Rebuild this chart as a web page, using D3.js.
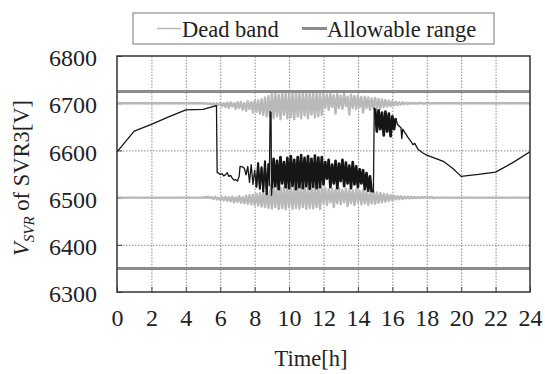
<!DOCTYPE html>
<html>
<head>
<meta charset="utf-8">
<script src="https://cdn.jsdelivr.net/npm/d3@7"></script>
<style>
body { margin: 0; background: #fff; }
svg text { font-family: "Liberation Serif", "Times New Roman", serif; fill: #222; }
.grid line { stroke: #8a8a8a; stroke-dasharray: 1.5,1.5; }
.grid path { display: none; }
.axis path { display: none; }
.axis line { stroke: #444; }
</style>
</head>
<body>
<svg id="chart" width="545" height="374"></svg>
<script>
// ---- data ----
var hourTicks = [0, 2, 4, 6, 8, 10, 12, 14, 16, 18, 20, 22, 24];
var voltTicks = [6300, 6400, 6500, 6600, 6700, 6800];
var allowableRange = [6350, 6725];
var deadBandNominal = [6500, 6700];
var legendLabels = ["Dead band", "Allowable range"];
var sampleStep = 0.1; // h, spacing of the dense samples below

// V_SVR, [hour, volt]
var svrMorning = [[0,6597],[1,6641],[2,6655],[3,6671],[4,6686],[5,6687],[5.78,6695],[5.82,6553],
  [5.9,6552],[6.0,6549],[6.1,6551],[6.2,6546],[6.3,6548],[6.4,6553],[6.5,6545],[6.6,6547],
  [6.7,6541],[6.8,6537],[6.9,6538],[7.0,6535],[7.1,6545],[7.15,6566],[7.3,6565],[7.4,6562]];
// 7.5h .. 8.8h
var svrDenseA = [6548,6566,6532,6570,6528,6558,6522,6574,6518,6565,6512,6578,6506,6572];
var svrSpikeA = [[8.85,6525],[8.9,6682],[8.95,6680],[8.98,6505]];
// 9.0h .. 14.8h
var svrDenseB = [
  6520,6582,6524,6578,6518,6586,6530,6575,6522,6584,
  6520,6588,6525,6580,6518,6586,6522,6590,6520,6584,
  6524,6588,6519,6582,6523,6589,6520,6585,6522,6586,
  6528,6575,6540,6580,6522,6570,6530,6578,6520,6572,
  6535,6580,6524,6574,6530,6568,6520,6575,6528,6566,
  6522,6560,6530,6558,6518,6552,6515,6545,6512];
var svrSpikeB = [[14.9,6512],[14.95,6690]];
// 15.0h .. 16.2h
var svrDenseC = [6688,6640,6685,6645,6680,6632,6682,6640,6678,6630,6672,6645,6668];
var svrEvening = [[16.3,6655],[16.5,6648],[16.55,6625],[16.6,6645],[16.9,6628],[17.1,6618],
  [17.2,6612],[17.3,6615],[17.5,6602],[17.8,6594],[18.0,6590],[18.5,6583],[19.0,6576],
  [19.5,6562],[20.0,6545],[21,6549],[22.0,6554],[23.0,6574],[24.0,6597]];

// dead band edges, 5.0h .. 18.5h
var dbUpper = [
  6700,6699,6700,6698,6700,6697,6700,6695,6700,6696,
  6701,6694,6700,6692,6701,6690,6702,6693,6700,6688,
  6702,6690,6703,6686,6700,6684,6704,6688,6702,6680,
  6705,6682,6706,6678,6708,6675,6712,6672,6715,6670,
  6720,6668,6722,6672,6718,6666,6722,6675,6720,6668,
  6722,6670,6721,6666,6723,6672,6720,6668,6722,6674,
  6721,6668,6723,6676,6720,6670,6722,6672,6721,6675,
  6720,6690,6718,6686,6720,6692,6717,6678,6719,6690,
  6716,6688,6720,6694,6714,6676,6718,6690,6715,6688,
  6716,6692,6713,6680,6714,6690,6712,6686,6710,6688,
  6711,6690,6709,6688,6708,6692,6707,6693,6705,6694,
  6704,6695,6703,6696,6702,6697,6702,6698,6701,6698,
  6701,6699,6701,6699,6700,6699,6701,6700,6699,6700,
  6700,6701,6699,6700,6700,6700];
var dbLower = [
  6500,6501,6500,6502,6499,6501,6497,6502,6496,6500,
  6495,6501,6494,6502,6493,6501,6492,6502,6490,6500,
  6491,6503,6489,6501,6488,6504,6487,6505,6486,6506,
  6484,6508,6483,6510,6481,6512,6480,6514,6478,6518,
  6477,6521,6480,6522,6476,6520,6478,6522,6475,6521,
  6479,6522,6476,6520,6478,6523,6477,6521,6480,6522,
  6476,6520,6478,6522,6477,6521,6480,6522,6476,6520,
  6488,6520,6484,6518,6490,6519,6480,6517,6488,6520,
  6486,6516,6490,6519,6482,6517,6488,6515,6484,6518,
  6490,6514,6486,6516,6488,6513,6485,6512,6488,6514,
  6487,6511,6489,6510,6490,6508,6491,6507,6493,6505,
  6494,6504,6496,6503,6497,6503,6497,6502,6498,6502,
  6498,6502,6499,6501,6499,6501,6499,6501,6500,6501,
  6499,6501,6500,6501,6499,6500];
var dbStart = 5.0;

function draw_chart() {
  function sampled(start, volts) {
    return volts.map(function(v, i) { return [start + i * sampleStep, v]; });
  }

  var denseA = sampled(7.5, svrDenseA), denseB = sampled(9.0, svrDenseB), denseC = sampled(15.0, svrDenseC);
  var svrData = [].concat(svrMorning, denseA, svrSpikeA, denseB, svrSpikeB, denseC, svrEvening);
  var upperData = [].concat([[0, deadBandNominal[1]]], sampled(dbStart, dbUpper), [[24, deadBandNominal[1]]]);
  var lowerData = [].concat([[0, deadBandNominal[0]]], sampled(dbStart, dbLower), [[24, deadBandNominal[0]]]);

  var serif = "'Liberation Serif', 'Times New Roman', serif";
  var svg = d3.select("#chart");
  var pLeft = 117, pRight = 530, pTop = 56, pBottom = 292;

  var x = d3.scaleLinear().domain([0, 24]).range([pLeft, pRight]);
  var y = d3.scaleLinear().domain([6300, 6800]).range([pBottom, pTop]);

  // grid
  svg.append("g").attr("class", "grid")
    .attr("transform", "translate(0," + pBottom + ")")
    .call(d3.axisBottom(x).tickValues(hourTicks.slice(1, -1)).tickSize(-(pBottom - pTop)).tickFormat(""));
  svg.append("g").attr("class", "grid")
    .attr("transform", "translate(" + pLeft + ",0)")
    .call(d3.axisLeft(y).tickValues(voltTicks.slice(1, -1)).tickSize(-(pRight - pLeft)).tickFormat(""));

  // axes
  var xAxis = svg.append("g").attr("class", "axis")
    .attr("transform", "translate(0," + pBottom + ")")
    .call(d3.axisBottom(x).tickValues(hourTicks).tickSize(-5).tickPadding(17));
  xAxis.attr("font-family", serif).attr("font-size", 24);
  xAxis.selectAll("text").attr("font-size", 24).attr("fill", "#222");

  var yAxis = svg.append("g").attr("class", "axis")
    .attr("transform", "translate(" + pLeft + ",0)")
    .call(d3.axisLeft(y).tickValues(voltTicks).tickSize(-5).tickPadding(20).tickFormat(d3.format("d")));
  yAxis.attr("font-family", serif).attr("font-size", 24);
  yAxis.selectAll("text").attr("font-size", 24).attr("dy", "0.4em").attr("fill", "#222");

  var line = d3.line().x(function(d) { return x(d[0]); }).y(function(d) { return y(d[1]); });

  // dead band
  [upperData, lowerData].forEach(function(band) {
    svg.append("path").datum(band).attr("d", line)
      .attr("fill", "none").attr("stroke", "#b9b9b9").attr("stroke-width", 2.4)
      .attr("stroke-linejoin", "round");
  });

  // allowable range
  svg.selectAll(".allow").data(allowableRange).enter().append("line")
    .attr("class", "allow")
    .attr("x1", x(0)).attr("x2", x(24))
    .attr("y1", function(d) { return y(d); }).attr("y2", function(d) { return y(d); })
    .attr("stroke", "#8c8c8c").attr("stroke-width", 3);

  // V_SVR
  svg.append("path").datum(svrData).attr("d", line)
    .attr("fill", "none").attr("stroke", "#161616").attr("stroke-width", 1.3)
    .attr("stroke-linejoin", "round");
  // heavier stroke where the tap keeps hunting
  [denseB, denseC].forEach(function(seg) {
    svg.append("path").datum(seg).attr("d", line)
      .attr("fill", "none").attr("stroke", "#161616").attr("stroke-width", 2.7)
      .attr("stroke-linejoin", "round");
  });
  svg.append("path").datum(denseA.slice(6)).attr("d", line)
    .attr("fill", "none").attr("stroke", "#161616").attr("stroke-width", 2);

  // frame
  svg.append("rect").attr("x", pLeft).attr("y", pTop)
    .attr("width", pRight - pLeft).attr("height", pBottom - pTop)
    .attr("fill", "none").attr("stroke", "#333").attr("stroke-width", 1.5);

  // axis titles
  svg.append("text").attr("x", 311).attr("y", 366)
    .attr("text-anchor", "middle").attr("font-size", 22.5).text("Time[h]");

  var yt = svg.append("text").attr("transform", "translate(29,178) rotate(-90)")
    .attr("text-anchor", "middle").attr("font-size", 22.5);
  yt.append("tspan").attr("font-style", "italic").text("V");
  yt.append("tspan").attr("font-style", "italic").attr("font-size", 15).attr("dy", 5).text("SVR");
  yt.append("tspan").attr("dy", -5).text(" of SVR3[V]");

  // legend
  var lg = svg.append("g");
  lg.append("rect").attr("x", 133).attr("y", 13).attr("width", 361).attr("height", 31)
    .attr("fill", "#fff").attr("stroke", "#777").attr("stroke-width", 1);
  lg.append("line").attr("x1", 157).attr("x2", 181).attr("y1", 28.5).attr("y2", 28.5)
    .attr("stroke", "#b9b9b9").attr("stroke-width", 1.5);
  lg.append("text").attr("x", 182).attr("y", 36.5).attr("font-size", 22.5).text(legendLabels[0]);
  lg.append("line").attr("x1", 302).attr("x2", 327).attr("y1", 28.5).attr("y2", 28.5)
    .attr("stroke", "#8c8c8c").attr("stroke-width", 3);
  lg.append("text").attr("x", 327).attr("y", 36.5).attr("font-size", 22.5).text(legendLabels[1]);
}

draw_chart();
</script>
</body>
</html>
